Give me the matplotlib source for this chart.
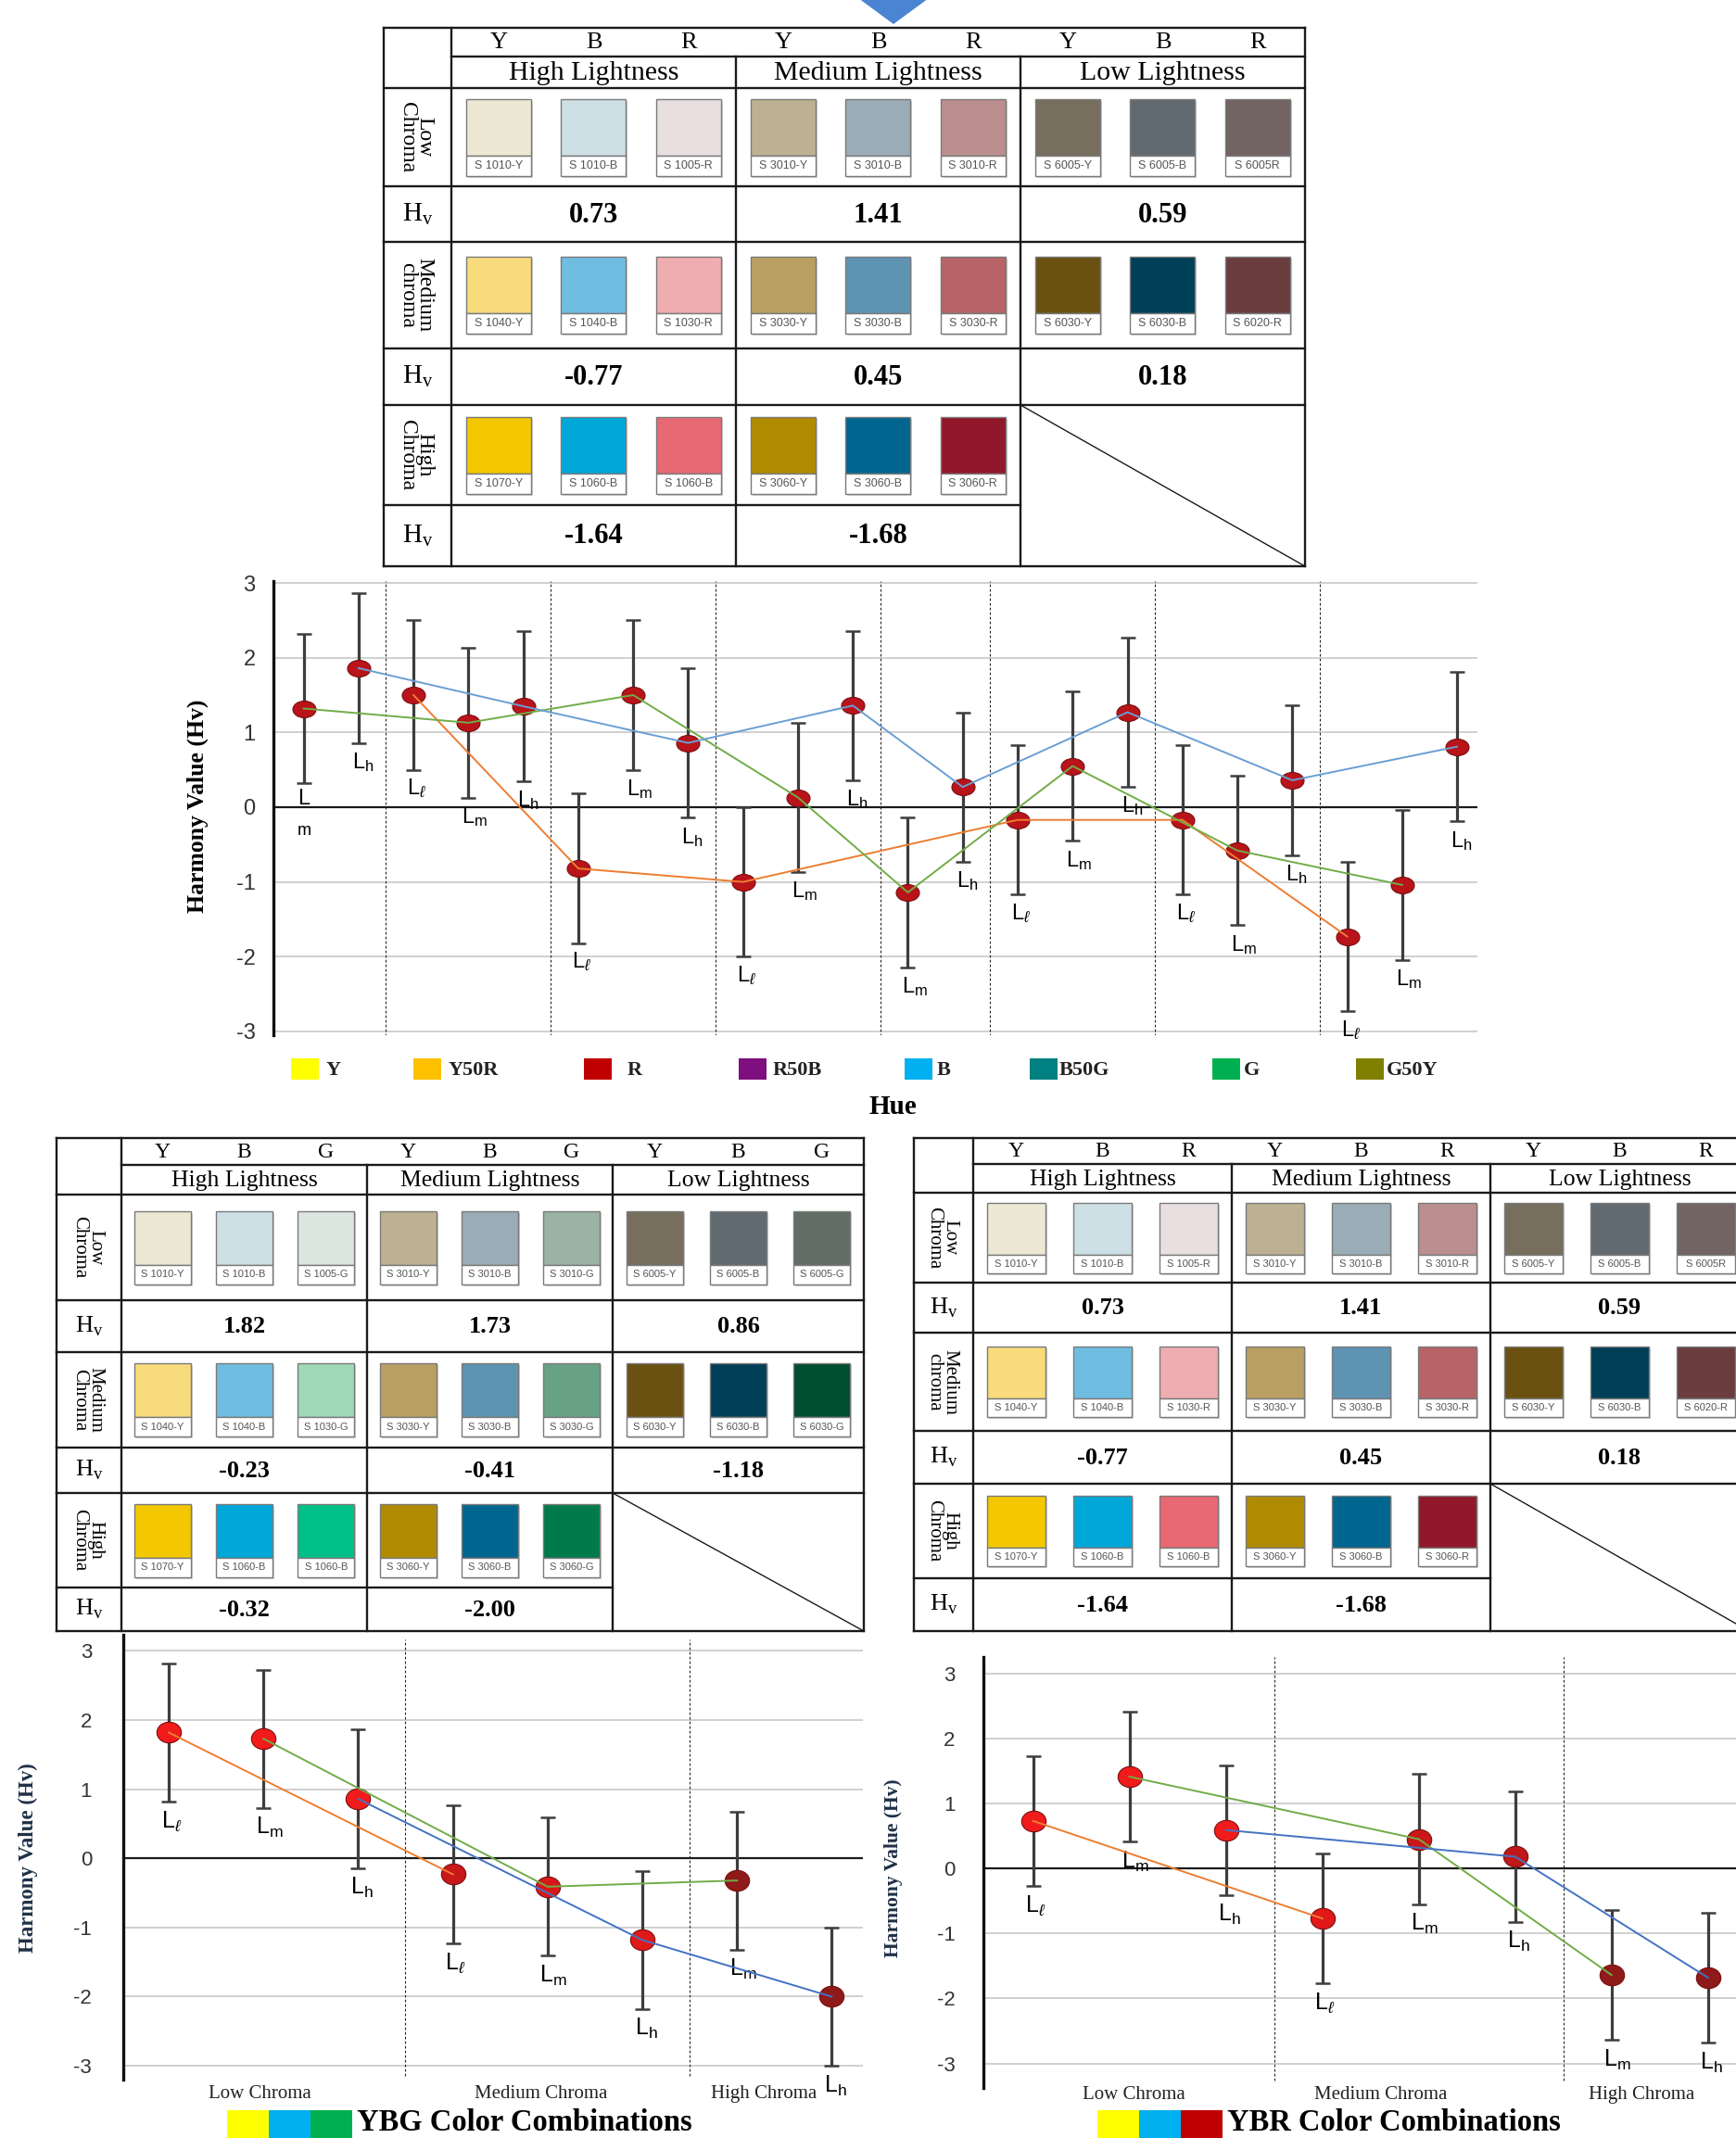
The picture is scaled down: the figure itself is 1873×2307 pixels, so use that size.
"""
Harmony value of Y-B-R / Y-B-G colour combinations
Tables of NCS samples + error-bar charts of Hv
"""

import matplotlib.pyplot as plt
import matplotlib.patches as mpatches
from matplotlib.path import Path
from matplotlib.transforms import Affine2D
import numpy as np

W, H, DPI = 1873, 2307, 100

plt.rcParams['font.family'] = 'Liberation Serif'
plt.rcParams['axes.unicode_minus'] = False
plt.rcParams['mathtext.fontset'] = 'custom'
plt.rcParams['mathtext.rm'] = 'Liberation Serif'
plt.rcParams['mathtext.sf'] = 'Liberation Sans'
plt.rcParams['mathtext.it'] = 'Liberation Sans:italic'

SANS = 'Liberation Sans'
SERIF = 'Liberation Serif'

# ---------------------------------------------------------------------------
# DATA
# ---------------------------------------------------------------------------
lightness_names = ['High Lightness', 'Medium Lightness', 'Low Lightness']

# YBR samples (rows = chroma level, 3 per lightness group)
ybr_codes = [
    ['S 1010-Y', 'S 1010-B', 'S 1005-R', 'S 3010-Y', 'S 3010-B', 'S 3010-R', 'S 6005-Y', 'S 6005-B', 'S 6005R'],
    ['S 1040-Y', 'S 1040-B', 'S 1030-R', 'S 3030-Y', 'S 3030-B', 'S 3030-R', 'S 6030-Y', 'S 6030-B', 'S 6020-R'],
    ['S 1070-Y', 'S 1060-B', 'S 1060-B', 'S 3060-Y', 'S 3060-B', 'S 3060-R'],
]
ybr_colors = [
    ['#ede8d4', '#cde0e6', '#e9dfe0', '#bcb191', '#9aacb5', '#bb8f8f', '#776e5e', '#626a71', '#716463'],
    ['#f8dc7c', '#6fbde0', '#f0adb1', '#b9a062', '#5f93b2', '#b76368', '#6a5111', '#003f58', '#6b3d3f'],
    ['#f4c800', '#00a7d9', '#e86873', '#b08b00', '#00658f', '#91172b'],
]
ybr_table_hv = [[0.73, 1.41, 0.59], [-0.77, 0.45, 0.18], [-1.64, -1.68]]

# YBG samples
ybg_codes = [
    ['S 1010-Y', 'S 1010-B', 'S 1005-G', 'S 3010-Y', 'S 3010-B', 'S 3010-G', 'S 6005-Y', 'S 6005-B', 'S 6005-G'],
    ['S 1040-Y', 'S 1040-B', 'S 1030-G', 'S 3030-Y', 'S 3030-B', 'S 3030-G', 'S 6030-Y', 'S 6030-B', 'S 6030-G'],
    ['S 1070-Y', 'S 1060-B', 'S 1060-B', 'S 3060-Y', 'S 3060-B', 'S 3060-G'],
]
ybg_colors = [
    ['#ede8d4', '#cde0e6', '#dce6e0', '#bcb191', '#9aacb5', '#9bb3a3', '#776e5e', '#626a71', '#616e66'],
    ['#f8dc7c', '#6fbde0', '#9ed9b8', '#b9a062', '#5f93b2', '#67a285', '#6a5111', '#003f58', '#014d2f'],
    ['#f4c800', '#00a7d9', '#00c08a', '#b08b00', '#00658f', '#00794b'],
]
ybg_table_hv = [[1.82, 1.73, 0.86], [-0.23, -0.41, -1.18], [-0.32, -2.00]]

# middle chart: Hv per hue and lightness level (l / m / h)
hue_names = ['Y', 'Y50R', 'R', 'R50B', 'B', 'B50G', 'G', 'G50Y']
hue_colors = ['#ffff00', '#ffc000', '#c00000', '#7f0f7f', '#00b0f0', '#008080', '#00b050', '#7f7f00']
hue_group_sizes = [2, 3, 3, 3, 2, 3, 3, 3]
mid_hv = [1.32, 1.86, 1.50, 1.13, 1.35, -0.82, 1.50, 0.86, -1.00, 0.13, 1.36,
          -1.14, 0.27, -0.17, 0.55, 1.27, -0.17, -0.58, 0.36, -1.73, -1.04, 0.81]
mid_err = [1.0] * 22
mid_level = ['m', 'h', 'l', 'm', 'h', 'l', 'm', 'h', 'l', 'm', 'h',
             'm', 'h', 'l', 'm', 'h', 'l', 'm', 'h', 'l', 'm', 'h']

# bottom charts
chroma_names = ['Low Chroma', 'Medium Chroma', 'High Chroma']
chroma_group_sizes = [3, 3, 2]
ybg_hv = [1.82, 1.73, 0.86, -0.23, -0.41, -1.18, -0.32, -2.00]
ybg_err = [1.0, 1.0, 1.0, 1.0, 1.0, 1.0, 1.0, 1.0]
ybg_level = ['l', 'm', 'h', 'l', 'm', 'h', 'm', 'h']
ybr_hv = [0.73, 1.41, 0.59, -0.77, 0.45, 0.18, -1.64, -1.68]
ybr_err = [1.0, 1.0, 1.0, 1.0, 1.0, 1.0, 1.0, 1.0]
ybr_level = ['l', 'm', 'h', 'l', 'm', 'h', 'm', 'h']

# ---------------------------------------------------------------------------
# FIGURE + pixel background axes
# ---------------------------------------------------------------------------
fig = plt.figure(figsize=(W / DPI, H / DPI), dpi=DPI)
fig.patch.set_facecolor('white')
bg = fig.add_axes([0, 0, 1, 1])
bg.set_xlim(0, W)
bg.set_ylim(H, 0)
bg.axis('off')


def axes_px(x0, x1, ytop, ybot):
    ax = fig.add_axes([x0 / W, 1 - ybot / H, (x1 - x0) / W, (ybot - ytop) / H])
    ax.patch.set_alpha(0)
    return ax


# blue arrow tip at the top
bg.add_patch(mpatches.Polygon([[926, -2], [1002, -2], [964, 26]], closed=True,
                              facecolor='#4a84d2', edgecolor='none'))

LINE = '#1a1a1a'


def draw_table(x_left, xg, rows, letters, codes, colors, hv, chroma_labels,
               sw_w, sw_h, fs):
    x_right = xg[-1]

    def hl(y, xa, xb, lw=1.7):
        bg.plot([xa, xb], [y, y], color=LINE, lw=lw, solid_capstyle='projecting')

    def vl(x, ya, yb, lw=1.7):
        bg.plot([x, x], [ya, yb], color=LINE, lw=lw, solid_capstyle='projecting')

    hl(rows[0], x_left, x_right)
    hl(rows[1], xg[0], x_right)
    for r in range(2, 7):
        hl(rows[r], x_left, x_right)
    hl(rows[7], x_left, xg[2])
    hl(rows[8], x_left, x_right)
    vl(x_left, rows[0], rows[8])
    vl(xg[0], rows[0], rows[8])
    vl(xg[1], rows[1], rows[8])
    vl(xg[2], rows[1], rows[8])
    vl(x_right, rows[0], rows[8])
    bg.plot([xg[2], x_right], [rows[6], rows[8]], color=LINE, lw=1.0)

    xc_left = (x_left + xg[0]) / 2
    for g in range(3):
        gx0, gw = xg[g], xg[g + 1] - xg[g]
        for k in range(3):
            bg.text(gx0 + (2 * k + 1) / 6 * gw, (rows[0] + rows[1]) / 2 + 1, letters[k],
                    ha='center', va='center', fontsize=fs['letter'], family=SERIF)
        bg.text(gx0 + gw / 2, (rows[1] + rows[2]) / 2 + 1, lightness_names[g],
                ha='center', va='center', fontsize=fs['light'], family=SERIF)

    for i in range(3):
        r = 2 + 2 * i
        cy = (rows[r] + rows[r + 1]) / 2
        bg.text(xc_left - 2, cy, chroma_labels[i], rotation=-90, ha='center', va='center',
                fontsize=fs['row'], family=SERIF, linespacing=0.85, multialignment='center')
        bg.text(xc_left, (rows[r + 1] + rows[r + 2]) / 2, r'H$_{\mathrm{v}}$',
                ha='center', va='center', fontsize=fs['hvlab'], family=SERIF)
        for j, code in enumerate(codes[i]):
            g, k = divmod(j, 3)
            gx0, gw = xg[g], xg[g + 1] - xg[g]
            cx = gx0 + (2 * k + 1) / 6 * gw
            top = cy - sw_h / 2
            hc = sw_h * 0.74
            bg.add_patch(mpatches.Rectangle((cx - sw_w / 2 + 2, top + 2), sw_w, sw_h,
                                            facecolor='#d0d0d0', edgecolor='none'))
            bg.add_patch(mpatches.Rectangle((cx - sw_w / 2, top), sw_w, hc,
                                            facecolor=colors[i][j], edgecolor='#7a7a7a', lw=1.0))
            bg.add_patch(mpatches.Rectangle((cx - sw_w / 2, top + hc), sw_w, sw_h - hc,
                                            facecolor='white', edgecolor='#7a7a7a', lw=1.0))
            bg.text(cx, top + hc + (sw_h - hc) / 2, code, ha='center', va='center',
                    fontsize=fs['code'], family=SANS, color='#555555')
        for g, v in enumerate(hv[i]):
            bg.text((xg[g] + xg[g + 1]) / 2, (rows[r + 1] + rows[r + 2]) / 2 + 1, f'{v:.2f}',
                    ha='center', va='center', fontsize=fs['hv'], family=SERIF,
                    fontweight='bold')


fs_top = dict(letter=19, light=21.5, row=17, hvlab=21, code=9, hv=22)
fs_bot = dict(letter=17, light=18.5, row=15, hvlab=19, code=8, hv=19)

draw_table(414, [487, 794, 1101, 1408], [30, 61, 95, 201, 261, 376, 437, 545, 611],
           ['Y', 'B', 'R'], ybr_codes, ybr_colors, ybr_table_hv,
           ['Low\nChroma', 'Medium\nchroma', 'High\nChroma'], 70, 83, fs_top)
draw_table(61, [131, 396, 661, 932], [1228, 1257, 1289, 1403, 1459, 1562, 1611, 1713, 1760],
           ['Y', 'B', 'G'], ybg_codes, ybg_colors, ybg_table_hv,
           ['Low\nChroma', 'Medium\nChroma', 'High\nChroma'], 61, 79, fs_bot)
draw_table(986, [1050, 1329, 1608, 1887], [1228, 1256, 1287, 1384, 1438, 1544, 1601, 1703, 1760],
           ['Y', 'B', 'R'], ybr_codes, ybr_colors, ybr_table_hv,
           ['Low\nChroma', 'Medium\nchroma', 'High\nChroma'], 63, 76, fs_bot)

# ---------------------------------------------------------------------------
# CHART HELPERS
# ---------------------------------------------------------------------------
line_colors_mid = {'l': '#ed7d31', 'm': '#70ad47', 'h': '#6a9fd4'}
line_colors_bot = {'l': '#ed7d31', 'm': '#70ad47', 'h': '#4472c4'}
sub = {'l': r'\ell', 'm': r'\mathsf{m}', 'h': r'\mathsf{h}'}


def ellipse(ratio):
    return Path.unit_circle().transformed(Affine2D().scale(1.0, ratio))


def setup_axis(ax, xlim, ylim, pad, bounds, vspan, tick_fs):
    ax.set_xlim(*xlim)
    ax.set_ylim(*ylim)
    for s in ['top', 'right', 'bottom']:
        ax.spines[s].set_visible(False)
    ax.spines['left'].set_linewidth(2.4)
    ax.spines['left'].set_color('#111111')
    ax.set_xticks([])
    ax.set_yticks([-3, -2, -1, 0, 1, 2, 3])
    ax.tick_params(axis='y', length=0, pad=pad, labelsize=tick_fs, labelcolor='#333333')
    for t in ax.get_yticklabels():
        t.set_family(SANS)
    for v in [-3, -2, -1, 1, 2, 3]:
        ax.axhline(v, color='#c4c4c4', lw=1.1, zorder=1)
    ax.axhline(0, color='#1a1a1a', lw=1.6, zorder=2)
    ax.vlines(bounds, vspan[0], vspan[1], colors='#222222', linestyles=(0, (2.5, 2)),
              lw=0.8, zorder=1)


def draw_points(ax, hv, err, levels, line_colors, faces, ratio, ms, lab_dx, lab_fs,
                split_first=False):
    x = np.arange(len(hv))
    hv = np.array(hv)
    err = np.array(err)
    ax.errorbar(x, hv, yerr=err, fmt='none', ecolor='#3d3d3d', elinewidth=2.3,
                capsize=5.5, capthick=1.8, zorder=3)
    mk = ellipse(ratio)
    for i in range(len(hv)):
        ax.plot(x[i], hv[i], marker=mk, ms=ms, mfc=faces[i], mec='#7a0e10', mew=0.8,
                zorder=4, ls='none')
    for lev, c in line_colors.items():
        idx = [i for i, l in enumerate(levels) if l == lev]
        ax.plot(x[idx], hv[idx], color=c, lw=1.4, zorder=5)
    for i, lev in enumerate(levels):
        lo = hv[i] - err[i]
        if split_first and i == 0:
            ax.annotate('L', (x[i], lo), xytext=(lab_dx, -4), textcoords='offset points',
                        ha='left', va='top', fontsize=lab_fs, family=SANS, annotation_clip=False)
            ax.annotate('m', (x[i], lo), xytext=(lab_dx, -31), textcoords='offset points',
                        ha='left', va='top', fontsize=lab_fs - 4, family=SANS,
                        annotation_clip=False)
            continue
        ax.annotate(r'$\mathsf{L}_{%s}$' % sub[lev], (x[i], lo), xytext=(lab_dx, -6),
                    textcoords='offset points', ha='left', va='top', fontsize=lab_fs,
                    annotation_clip=False)


# ---------------------------------------------------------------------------
# MIDDLE CHART (all hues)
# ---------------------------------------------------------------------------
ax_mid = axes_px(295, 1594, 627.4, 1117)
mid_bounds = np.cumsum(hue_group_sizes)[:-1] - 0.5
setup_axis(ax_mid, (-0.55, 21.37), (-3.05, 3.02), 14, mid_bounds, (-3.12, 3.02), 17)
draw_points(ax_mid, mid_hv, mid_err, mid_level, line_colors_mid,
            ['#b9141a'] * len(mid_hv), 0.72, 18, -5, 17, split_first=True)

fig.text(213 / W, 1 - 870 / H, 'Harmony Value (Hv)', rotation=90, ha='center', va='center',
         fontsize=18.5, fontweight='bold', family=SERIF)

legend_sq_x = [314, 446, 630, 797, 976, 1111, 1308, 1463]
legend_txt_x = [352, 484, 677, 834, 1011, 1143, 1342, 1496]
for name, col, sx, tx in zip(hue_names, hue_colors, legend_sq_x, legend_txt_x):
    bg.add_patch(mpatches.Rectangle((sx, 1142), 30, 23, facecolor=col, edgecolor='none'))
    bg.text(tx, 1155, name, ha='left', va='center', fontsize=16, fontweight='bold',
            family=SERIF, color='#222222')
bg.text(963, 1195, 'Hue', ha='center', va='center', fontsize=21, fontweight='bold', family=SERIF)

# ---------------------------------------------------------------------------
# BOTTOM CHARTS
# ---------------------------------------------------------------------------
chroma_bounds = np.cumsum(chroma_group_sizes)[:-1] - 0.5

ax_ybg = axes_px(132.5, 931, 1763.5, 2244)
setup_axis(ax_ybg, (-0.485, 7.33), (-3.2, 3.24), 24, chroma_bounds, (-3.15, 3.16), 16)
draw_points(ax_ybg, ybg_hv, ybg_err, ybg_level, line_colors_bot,
            ['#f21b1b', '#f21b1b', '#f21b1b', '#c81818', '#d81818', '#e01818', '#8f1a1a', '#8f1a1a'],
            0.85, 19, -6, 18)
for xpos, name in zip([0.96, 3.93, 6.28], chroma_names):
    ax_ybg.text(xpos, -3.41, name, ha='center', va='center', fontsize=15, family=SERIF,
                color='#222222')
fig.text(30 / W, 1 - 2005 / H, 'Harmony Value (Hv)', rotation=90, ha='center', va='center',
         fontsize=16.5, fontweight='bold', family=SERIF, color='#1f3047')

ax_ybr = axes_px(1061, 1873, 1788, 2252.6)
setup_axis(ax_ybr, (-0.515, 7.29), (-3.37, 3.25), 22, chroma_bounds, (-3.26, 3.25), 16)
draw_points(ax_ybr, ybr_hv, ybr_err, ybr_level, line_colors_bot,
            ['#f21b1b', '#f21b1b', '#f21b1b', '#e01818', '#c81818', '#c01818', '#8f1a1a', '#8f1a1a'],
            0.85, 19, -6, 18)
for xpos, name in zip([1.05, 3.61, 6.31], chroma_names):
    ax_ybr.text(xpos, -3.48, name, ha='center', va='center', fontsize=15, family=SERIF,
                color='#222222')
fig.text(964 / W, 1 - 2016 / H, 'Harmony Value (Hv)', rotation=90, ha='center', va='center',
         fontsize=15.5, fontweight='bold', family=SERIF, color='#1f3047')

# combination titles at the bottom edge
for x0, cols, title in [(245, ['#ffff00', '#00b0f0', '#00b050'], 'YBG Color Combinations'),
                        (1184, ['#ffff00', '#00b0f0', '#c00000'], 'YBR Color Combinations')]:
    for k, c in enumerate(cols):
        bg.add_patch(mpatches.Rectangle((x0 + k * 45, 2277), 45, 40, facecolor=c, edgecolor='none'))
    bg.text(x0 + 140, 2299, title, ha='left', va='baseline', fontsize=23.5, fontweight='bold',
            family=SERIF)

fig.savefig('out.png', dpi=DPI, facecolor='white')
